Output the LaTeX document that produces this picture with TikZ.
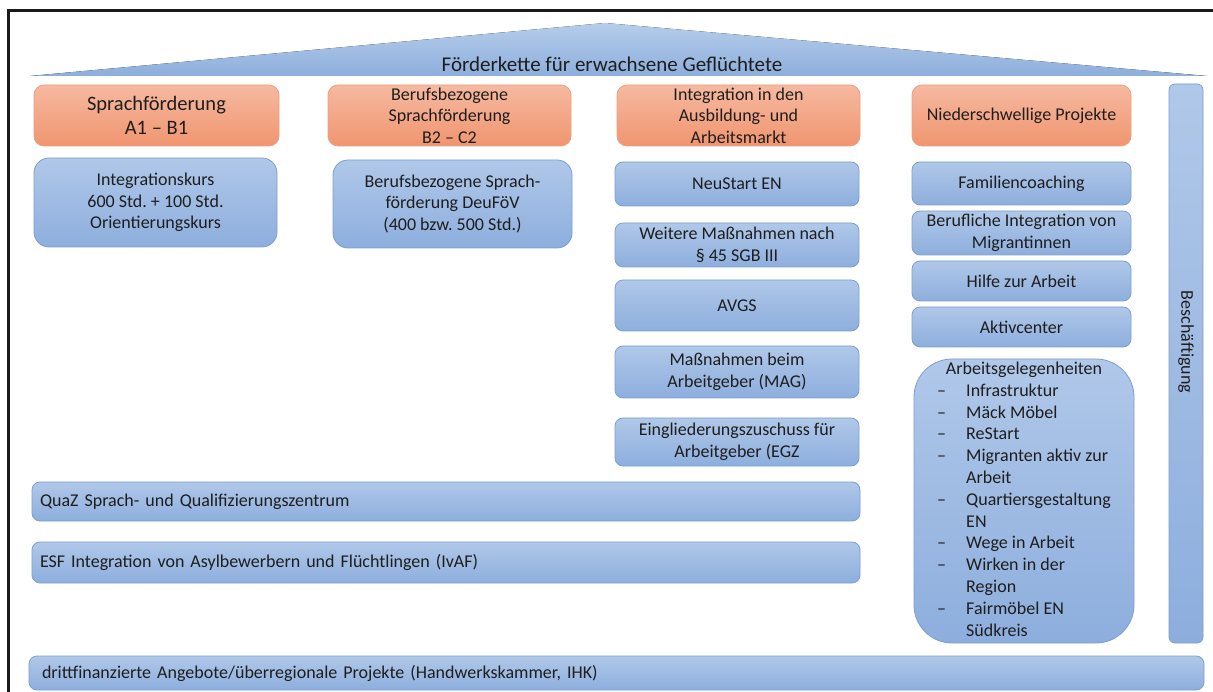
\documentclass[tikz,border=0pt]{standalone}
\usepackage{fontspec}
\setmainfont{Carlito}
\usepackage{tikz}
\frenchspacing

\definecolor{blueT}{HTML}{B0C8E9}
\definecolor{blueB}{HTML}{8DAEDD}
\definecolor{blueLine}{HTML}{7E9FCE}
\definecolor{orangeT}{HTML}{F6B9A0}
\definecolor{orangeB}{HTML}{F0956F}
\definecolor{orangeLine}{HTML}{E9A184}
\definecolor{roofT}{HTML}{B6CDEB}
\definecolor{roofB}{HTML}{8DAEDC}
\definecolor{textgray}{HTML}{1E1E1E}
\definecolor{framegray}{HTML}{1A1A1A}

\tikzset{
  bluebox/.style={draw=blueLine, line width=0.8pt, rounded corners=8pt,
    top color=blueT, bottom color=blueB, align=center, text=textgray,
    font=\fontsize{18}{21.5}\selectfont, inner sep=0pt},
  orangebox/.style={draw=orangeLine, line width=0.8pt, rounded corners=10pt,
    top color=orangeT, bottom color=orangeB, align=center, text=textgray,
    font=\fontsize{18}{21.5}\selectfont, inner sep=0pt, minimum height=61},
  rowbox/.style={bluebox, align=left, inner xsep=8pt}
}

\begin{document}
\begin{tikzpicture}[x=1pt,y=-1pt]
\useasboundingbox (0,0) rectangle (1213,692);
\fill[white] (0,0) rectangle (1213,692);

% frame
\draw[line width=2.5pt, framegray] (8.5,692) -- (8.5,10.5) -- (1213,10.5);

% roof
\fill[top color=roofT, bottom color=roofB] (30,76) -- (605,23) -- (1207,76) -- cycle;
\node[anchor=base, text=textgray, font=\fontsize{21}{24}\selectfont] (roof) at (612,72)
  {Förderkette für erwachsene Geflüchtete};

% headers
\node[orangebox, minimum width=245, font=\fontsize{20.5}{23.5}\selectfont] (sprach) at (156.5,115.5)
  {Sprachförderung\\A1 – B1};
\node[orangebox, minimum width=243] (beruf) at (449.5,115.5)
  {Berufsbezogene\\Sprachförderung\\B2 – C2};
\node[orangebox, minimum width=243] (integ) at (738.5,115.5)
  {Integration in den\\Ausbildung- und\\Arbeitsmarkt};
\node[orangebox, minimum width=219] (nieder) at (1021.5,115.5)
  {Niederschwellige Projekte};

% Beschaeftigung
\node[bluebox, rounded corners=6pt, minimum width=34, minimum height=559] (besch) at (1186,363.5) {};
\node[rotate=-90, text=textgray, font=\fontsize{18}{21.5}\selectfont] (beschtxt) at (1186,342) {Beschäftigung};

% column 1 and 2
\node[bluebox, rounded corners=15pt, minimum width=243, minimum height=89] (ikurs) at (155.5,202.5)
  {Integrationskurs\\600 Std. + 100 Std.\\Orientierungskurs};
\node[bluebox, rounded corners=15pt, minimum width=239, minimum height=88] (deufoev) at (452.5,204)
  {Berufsbezogene Sprach-\\förderung DeuFöV\\(400 bzw. 500 Std.)};

% column 3
\foreach \nm/\yt/\yb/\txt in {neustart/162/206/{NeuStart EN},
    weitere/223/267/{Weitere Maßnahmen nach\\§ 45 SGB III},
    avgs/280/331/{AVGS},
    mag/346/398/{Maßnahmen beim\\Arbeitgeber (MAG)},
    egz/418/466/{Eingliederungszuschuss für\\Arbeitgeber (EGZ}}
  \node[bluebox, minimum width=244, minimum height=\yb-\yt] (\nm) at (737,{(\yt+\yb)/2}) {\txt};

% column 4
\foreach \nm/\yt/\yb/\txt in {famcoach/162/205/{Familiencoaching},
    berufint/211/255/{Berufliche Integration von\\Migrantinnen},
    hilfe/261/301/{Hilfe zur Arbeit},
    aktiv/307/347/{Aktivcenter}}
  \node[bluebox, minimum width=219, minimum height=\yb-\yt] (\nm) at (1021.5,{(\yt+\yb)/2}) {\txt};

\node[bluebox, rounded corners=38pt, minimum width=220, minimum height=284,
  font=\fontsize{18}{21.8}\selectfont] (arbgel) at (1024,501)
  {\begin{tabular}{@{}p{29pt}@{}l@{}}
   \multicolumn{2}{c}{Arbeitsgelegenheiten}\\
   – & Infrastruktur\\
   – & Mäck Möbel\\
   – & ReStart\\
   – & Migranten aktiv zur\\
     & Arbeit\\
   – & Quartiersgestaltung\\
     & EN\\
   – & Wege in Arbeit\\
   – & Wirken in der\\
     & Region\\
   – & Fairmöbel EN\\
     & Südkreis
   \end{tabular}};

% rows
\node[rowbox, minimum width=828, text width=812, minimum height=39] (quaz) at (446,501.5)
  {QuaZ Sprach- und Qualifizierungszentrum};
\node[rowbox, minimum width=828, text width=812, minimum height=41] (esf) at (446,562.5)
  {ESF Integration von Asylbewerbern und Flüchtlingen (IvAF)};
\node[rowbox, inner xsep=13pt, minimum width=1175, text width=1149, minimum height=34] (dritt) at (616.5,673)
  {drittfinanzierte Angebote/überregionale Projekte (Handwerkskammer, IHK)};
\end{tikzpicture}
\end{document}
